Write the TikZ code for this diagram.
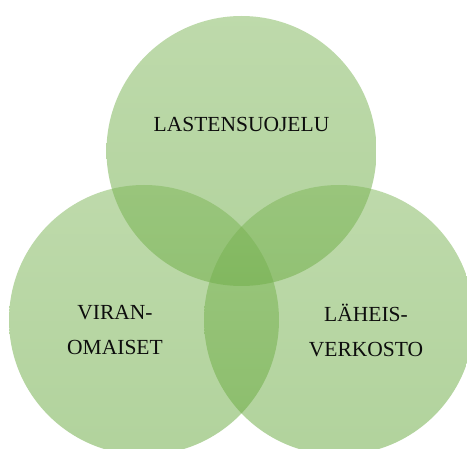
\documentclass[tikz,border=0pt]{standalone}
\usepackage{fontspec}
\setmainfont{Liberation Serif}
\definecolor{gtop}{RGB}{125,181,87}
\definecolor{gbot}{RGB}{100,167,58}
\tikzset{
  venn/.style={circle, minimum size=270pt, inner sep=0pt, top color=gtop, bottom color=gbot, fill opacity=0.5, draw=none},
  lbl/.style={align=center, inner sep=0pt, font=\fontsize{21.5}{35}\selectfont, text=black!95}
}
\begin{document}
\begin{tikzpicture}[x=1pt,y=-1pt]
\useasboundingbox (0,0) rectangle (467,449);
\clip (0,0) rectangle (467,449);
\node[venn] (top) at (241.5,151) {};
\node[venn] (left) at (144,320) {};
\node[venn] (right) at (339,320) {};
\node[lbl, anchor=base] (t1) at (241.5,132) {LASTENSUOJELU};
\node[lbl] (t2) at (115,330.5) {VIRAN-\\OMAISET};
\node[lbl] (t3) at (366,330.5) {LÄHEIS-\\VERKOSTO};
\end{tikzpicture}
\end{document}
